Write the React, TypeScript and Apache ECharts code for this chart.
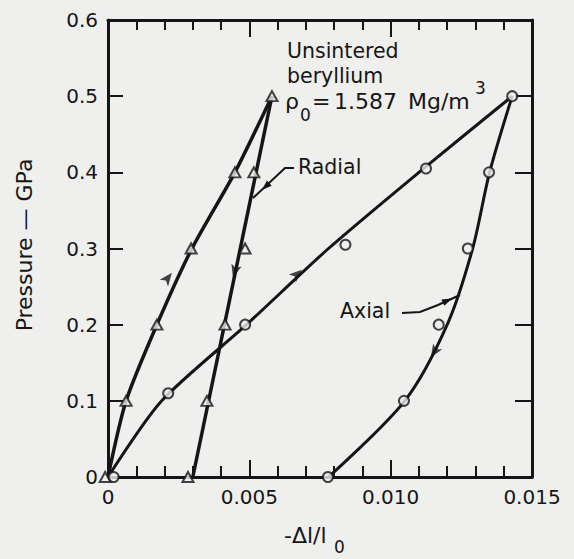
import React, { useEffect, useRef } from "react";
import * as echarts from "echarts";

// ---- tick values ----
const xTicks = [0, 0.005, 0.01, 0.015];
const yTicks = [0, 0.1, 0.2, 0.3, 0.4, 0.5, 0.6];

// ---- measured points (triangles = radial, circles = axial) ----
const radialPoints: [number, number][] = [
  [-0.0001, 0], [0.00064, 0.1], [0.00173, 0.2], [0.00294, 0.3], [0.00449, 0.4], [0.0058, 0.5],
  [0.00516, 0.4], [0.00485, 0.3], [0.00414, 0.2], [0.0035, 0.1], [0.00283, 0],
];
const axialPoints: [number, number][] = [
  [0.0002, 0], [0.00213, 0.11], [0.00485, 0.2], [0.0084, 0.305], [0.01125, 0.405], [0.0143, 0.5],
  [0.01348, 0.4], [0.01273, 0.3], [0.0117, 0.2], [0.01047, 0.1], [0.00778, 0],
];

// ---- fitted curves ----
const radialLoading: [number, number][] = [
  [0, 0], [0.00064, 0.1], [0.00173, 0.2], [0.00297, 0.3], [0.00449, 0.4], [0.0058, 0.5],
];
const radialUnloading: [number, number][] = [
  [0.003, 0], [0.0058, 0.5],
];
const axialLoading: [number, number][] = [
  [0, 0], [0.0019, 0.1], [0.0049, 0.2], [0.0078, 0.3], [0.011, 0.4], [0.0143, 0.5],
];
const axialUnloading: [number, number][] = [
  [0.0078, 0], [0.0105, 0.1], [0.012, 0.2], [0.0129, 0.3], [0.0135, 0.4], [0.0143, 0.5],
];

// ---- direction arrows on the curves: [x, y, rotation deg] ----
const curveArrows: [number, number, number][] = [
  [0.00226, 0.268, -38],
  [0.00442, 0.262, 164],
  [0.00686, 0.272, -48],
  [0.01142, 0.157, 148],
];

const BG = "#efefed";
const INK = "#151515";
const FONT = "'DejaVu Sans', sans-serif";

function arrowHead(tx: number, ty: number, dx: number, dy: number, len = 10, hw = 3.5) {
  const n = Math.hypot(dx, dy);
  const ux = dx / n, uy = dy / n;
  const bx = tx - ux * len, by = ty - uy * len;
  return [
    [tx, ty],
    [bx - uy * hw, by + ux * hw],
    [bx + uy * hw, by - ux * hw],
  ];
}

export default function App() {
  const ref = useRef<HTMLDivElement>(null);
  useEffect(() => {
    if (!ref.current) return;
    const chart = echarts.init(ref.current, null, { renderer: "svg" });
    const xMin = xTicks[0], xMax = xTicks[xTicks.length - 1], xInt = xTicks[1] - xTicks[0];
    const yMin = yTicks[0], yMax = yTicks[yTicks.length - 1], yInt = yTicks[1] - yTicks[0];
    const axisLine = { show: true, onZero: false, lineStyle: { color: INK, width: 3 } };
    const labelStyle = { color: INK, fontSize: 20, fontFamily: FONT };
    const lineSeries = (data: [number, number][], width: number, smooth: number | boolean) => ({
      type: "line",
      data,
      smooth,
      symbol: "none",
      lineStyle: { color: INK, width },
      silent: true,
      z: 2,
    });
    const txt = (text: string, x: number, y: number, size = 20, extra: any = {}) => ({
      type: "text",
      x,
      y,
      silent: true,
      ...extra,
      style: { text, fill: INK, fontSize: size, fontFamily: FONT, align: "left", verticalAlign: "middle", ...(extra.style || {}) },
    });
    chart.setOption({
      animation: false,
      backgroundColor: BG,
      grid: { left: 108, right: 42, top: 20, bottom: 82, containLabel: false, outerBoundsMode: "none" },
      xAxis: [
        {
          type: "value", min: xMin, max: xMax, interval: xInt, position: "bottom",
          axisLine, splitLine: { show: false },
          axisTick: { show: true, inside: true, length: 17, lineStyle: { color: INK, width: 2 } },
          minorTick: { show: true, splitNumber: 5, length: 11, lineStyle: { color: INK, width: 2 } },
          axisLabel: { ...labelStyle, margin: 10, formatter: (v: number) => (v === 0 ? "0" : v.toFixed(3)) },
        },
        {
          type: "value", min: xMin, max: xMax, interval: xInt, position: "top",
          axisLine, splitLine: { show: false },
          axisTick: { show: true, inside: true, length: 17, lineStyle: { color: INK, width: 2 } },
          minorTick: { show: true, splitNumber: 5, length: 10, lineStyle: { color: INK, width: 2 } },
          axisLabel: { show: false },
        },
      ],
      yAxis: [
        {
          type: "value", min: yMin, max: yMax, interval: yInt, position: "left",
          axisLine, splitLine: { show: false },
          axisTick: { show: true, inside: true, length: 15, lineStyle: { color: INK, width: 2 } },
          axisLabel: { ...labelStyle, margin: 10, formatter: (v: number) => (v === 0 ? "0" : v.toFixed(1)) },
        },
        {
          type: "value", min: yMin, max: yMax, interval: yInt, position: "right",
          axisLine, splitLine: { show: false },
          axisTick: { show: true, inside: true, length: 17, lineStyle: { color: INK, width: 2 } },
          axisLabel: { show: false },
        },
      ],
      series: [
        lineSeries(radialLoading, 3.5, 0.25),
        lineSeries(radialUnloading, 3.5, false),
        lineSeries(axialLoading, 3, 0.25),
        lineSeries(axialUnloading, 3, 0.3),
        {
          type: "scatter", data: radialPoints, symbol: "triangle", symbolSize: [11, 10], clip: false,
          itemStyle: { color: BG, borderColor: INK, borderWidth: 2 }, silent: true, z: 5,
        },
        {
          type: "scatter", data: axialPoints, symbol: "circle", symbolSize: 10, clip: false,
          itemStyle: { color: BG, borderColor: INK, borderWidth: 2 }, silent: true, z: 5,
        },
        {
          type: "scatter", data: curveArrows, symbol: "arrow", symbolSize: [8, 13],
          symbolRotate: (v: number[]) => v[2],
          itemStyle: { color: INK }, silent: true, z: 4,
        },
      ],
      graphic: [
        txt("Unsintered", 287, 51, 20.5),
        txt("beryllium", 287, 76, 20.5),
        txt("ρ", 285, 101, 22),
        txt("0", 300, 115, 17),
        txt("=", 312, 101, 22),
        txt("1.587", 334, 101, 22),
        txt("Mg/m", 408, 101, 22),
        txt("3", 475, 88, 17),
        txt("Radial", 298, 167, 20.5),
        txt("Axial", 340, 311, 20.5),
        txt("-Δl/l", 284, 535, 22),
        txt("0", 334, 547, 17),
        {
          type: "text", x: 24, y: 245, rotation: Math.PI / 2, silent: true,
          style: { text: "Pressure — GPa", fill: INK, fontSize: 22, fontFamily: FONT, align: "center", verticalAlign: "middle" },
        },
        {
          type: "polyline", silent: true,
          shape: { points: [[294, 168], [285, 168], [253, 198]] },
          style: { stroke: INK, lineWidth: 2, fill: null },
        },
        { type: "polygon", silent: true, shape: { points: arrowHead(262, 190, -32, 30) }, style: { fill: INK } },
        {
          type: "polyline", silent: true,
          shape: { points: [[402, 313], [420, 312], [438, 305], [460, 295]] },
          style: { stroke: INK, lineWidth: 2, fill: null },
        },
        { type: "polygon", silent: true, shape: { points: arrowHead(452, 298.5, 22, -10) }, style: { fill: INK } },
      ],
    });
    return () => chart.dispose();
  }, []);
  return <div ref={ref} style={{ position: "fixed", left: 0, top: 0, width: 574, height: 559 }} />;
}
